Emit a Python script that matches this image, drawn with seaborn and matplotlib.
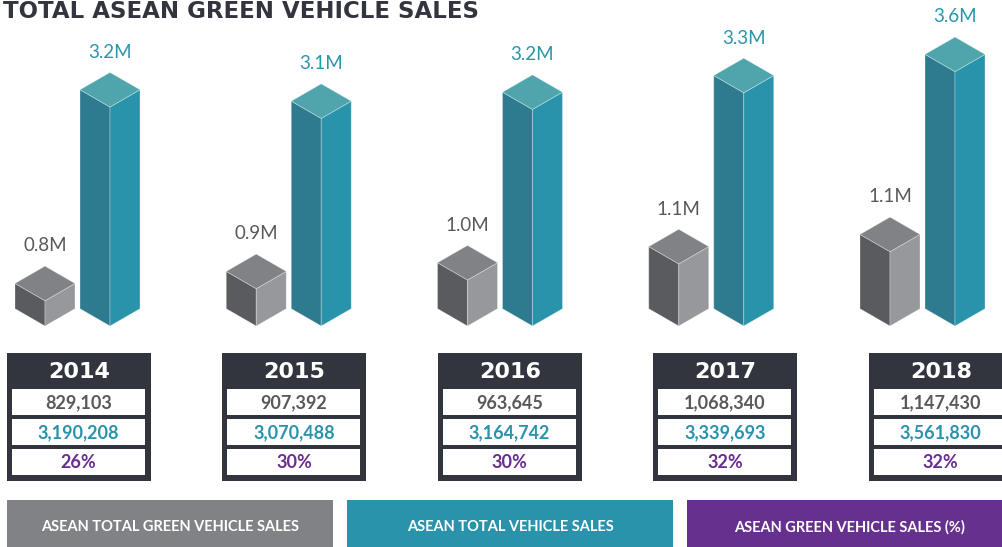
import numpy as np
import pandas as pd
import matplotlib
matplotlib.use("Agg")
import matplotlib.pyplot as plt
from matplotlib.patches import Polygon, Rectangle
import seaborn as sns

# ---------------- data ----------------
years = ["2014", "2015", "2016", "2017", "2018"]
green_sales = [829103, 907392, 963645, 1068340, 1147430]
total_sales = [3190208, 3070488, 3164742, 3339693, 3561830]
green_share = [26, 30, 30, 32, 32]
legend_labels = ["ASEAN TOTAL GREEN VEHICLE SALES",
                 "ASEAN TOTAL VEHICLE SALES",
                 "ASEAN GREEN VEHICLE SALES (%)"]
title = "TOTAL ASEAN GREEN VEHICLE SALES"

# ---------------- style ----------------
sns.set_style("white")
plt.rcParams["font.family"] = ["Lato", "DejaVu Sans"]

W, H = 1003, 547
fig = plt.figure(figsize=(W / 100, H / 100), dpi=100)
fig.patch.set_facecolor("white")

DARK = "#33353e"
GRAY_TXT = "#58595b"
TEAL = "#2893aa"
TEAL_TXT = "#2b95ad"
PURPLE = "#6a2d91"
LEG_GRAY = "#808285"
LEG_PURPLE = "#66308f"

faces = {
    "green": dict(top="#808285", left="#5a5b5e", right="#97989b", label=GRAY_TXT),
    "total": dict(top="#4fa5ab", left="#2e7b8f", right="#2893aa", label=TEAL_TXT),
}

# ---------------- bar axes ----------------
base_px = 326
rect = [0, (H - base_px) / H, 1, base_px / H]
ax_g = fig.add_axes(rect)
ax_t = fig.add_axes(rect)

df = pd.DataFrame({
    "year": years * 2,
    "series": ["green"] * len(years) + ["total"] * len(years),
    "value": green_sales + total_sales,
})
hue_order = ["green", "total"]
pal = {"green": faces["green"]["right"], "total": faces["total"]["right"]}

group_px = 211.25
group0_px = 77.5
slot_px = 65.0
for ax, ser, floor, px_per_unit in [(ax_g, "green", 0.665e6, 154e-6),
                                    (ax_t, "total", 0.89e6, 95.2e-6)]:
    sns.barplot(data=df[df["series"] == ser], x="year", y="value",
                hue="series", hue_order=hue_order, order=years, dodge=True,
                palette=pal, width=2 * slot_px / group_px, gap=5 / slot_px,
                errorbar=None, legend=False, ax=ax)
    ax.set_xlim(-group0_px / group_px, (W - group0_px) / group_px)
    ax.set_ylim(floor, floor + base_px / px_per_unit)
    ax.set_axis_off()
    ax.patch.set_alpha(0)

    y0, y1 = ax.get_ylim()
    d = 17.3 * (y1 - y0) / base_px
    c = faces[ser]
    bars = [p for p in ax.patches if isinstance(p, Rectangle) and p.get_height() > 0]
    for p in bars:
        x0 = p.get_x()
        w = p.get_width()
        xm = x0 + w / 2
        x1 = x0 + w
        h = p.get_height()
        p.set_visible(False)
        ek = dict(edgecolor=(1, 1, 1, 0.35), linewidth=0.6, clip_on=False)
        ax.add_patch(Polygon([(x0, y0 + d), (xm, y0), (xm, h), (x0, h + d)],
                             closed=True, facecolor=c["left"], **ek))
        ax.add_patch(Polygon([(xm, y0), (x1, y0 + d), (x1, h + d), (xm, h)],
                             closed=True, facecolor=c["right"], **ek))
        ax.add_patch(Polygon([(xm, h), (x0, h + d), (xm, h + 2 * d), (x1, h + d)],
                             closed=True, facecolor=c["top"], **ek))
        ax.annotate(f"{h / 1e6:.1f}M", xy=(xm, h + 2 * d), xytext=(0, 14.5),
                    textcoords="offset points", ha="center", va="center",
                    fontsize=13.5, color=c["label"], annotation_clip=False)

# ---------------- overlay (title, tables, legend) ----------------
ov = fig.add_axes([0, 0, 1, 1])
ov.set_xlim(0, W)
ov.set_ylim(H, 0)
ov.set_axis_off()
ov.patch.set_alpha(0)

ov.text(3, 12, title, ha="left", va="center", fontsize=16.5, fontweight="bold",
        color=DARK, family=["DejaVu Sans"])

tab_step = 215.5
for i, yr in enumerate(years):
    left = 7 + tab_step * i
    ov.add_patch(Rectangle((left, 353), 144, 128, facecolor=DARK, edgecolor="none"))
    ov.text(left + 72, 371.5, yr, ha="center", va="center", fontsize=16,
            fontweight="bold", color="white", family=["DejaVu Sans"])
    rows = [(f"{green_sales[i]:,}", GRAY_TXT),
            (f"{total_sales[i]:,}", TEAL),
            (f"{green_share[i]}%", PURPLE)]
    for k, (txt, col) in enumerate(rows):
        top = 389 + 30 * k
        ov.add_patch(Rectangle((left + 5, top), 133, 26, facecolor="white",
                               edgecolor="none"))
        ov.text(left + 71.5, top + 13.5, txt, ha="center", va="center",
                fontsize=13, fontweight="bold", color=col)

leg_boxes = [(7, 333, LEG_GRAY), (347, 673, TEAL), (687, 1012, LEG_PURPLE)]
for (xa, xb, col), lab in zip(leg_boxes, legend_labels):
    ov.add_patch(Rectangle((xa, 500), xb - xa, 50, facecolor=col, edgecolor="none",
                           clip_on=False))
    ov.text((xa + xb) / 2, 527, lab, ha="center", va="center", fontsize=10.5,
            fontweight="bold", color="white")

fig.savefig("out.png", dpi=100)
